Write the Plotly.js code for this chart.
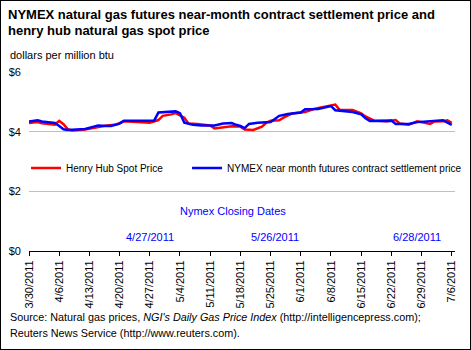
<!DOCTYPE html>
<html>
<head>
<meta charset="utf-8">
<script src="https://cdn.plot.ly/plotly-3.0.1.min.js"></script>
<style>
  html, body { margin: 0; padding: 0; background: #fff; }
  #wrap { position: relative; width: 471px; height: 350px; }
  #chart { position: absolute; left: 0; top: 0; width: 471px; height: 350px; }
  #frame { position: absolute; left: 0; top: 0; width: 471px; height: 350px; box-sizing: border-box; border: 1px solid #000; pointer-events: none; }
</style>
</head>
<body>
<div id="wrap"><div id="chart"></div><div id="frame"></div></div>
<script>
// Henry Hub spot price (dollars per million btu)
const hubDates = ['2011-03-30','2011-04-01','2011-04-02','2011-04-04','2011-04-05','2011-04-06','2011-04-07','2011-04-08','2011-04-09','2011-04-12','2011-04-15','2011-04-17','2011-04-19','2011-04-21','2011-04-24','2011-04-27','2011-04-29','2011-04-30','2011-05-02','2011-05-03','2011-05-05','2011-05-06','2011-05-08','2011-05-11','2011-05-12','2011-05-15','2011-05-16','2011-05-18','2011-05-19','2011-05-21','2011-05-23','2011-05-24','2011-05-25','2011-05-27','2011-05-28','2011-05-30','2011-06-02','2011-06-04','2011-06-07','2011-06-08','2011-06-09','2011-06-10','2011-06-13','2011-06-15','2011-06-16','2011-06-18','2011-06-21','2011-06-23','2011-06-24','2011-06-26','2011-06-28','2011-06-30','2011-07-01','2011-07-02','2011-07-04','2011-07-05','2011-07-06'];
const hubPrices = [4.29,4.32,4.28,4.25,4.23,4.36,4.25,4.08,4.04,4.07,4.16,4.21,4.23,4.35,4.32,4.30,4.39,4.53,4.58,4.62,4.47,4.27,4.26,4.21,4.11,4.16,4.18,4.17,4.07,4.06,4.17,4.30,4.37,4.38,4.47,4.61,4.66,4.76,4.84,4.86,4.91,4.73,4.73,4.61,4.51,4.37,4.35,4.39,4.27,4.23,4.35,4.29,4.26,4.34,4.35,4.38,4.30];

// NYMEX near month futures contract settlement price
const nymexDates = ['2011-03-30','2011-04-01','2011-04-02','2011-04-04','2011-04-05','2011-04-06','2011-04-07','2011-04-08','2011-04-10','2011-04-12','2011-04-14','2011-04-15','2011-04-17','2011-04-18','2011-04-20','2011-04-21','2011-04-28','2011-04-29','2011-05-03','2011-05-04','2011-05-05','2011-05-07','2011-05-09','2011-05-12','2011-05-14','2011-05-16','2011-05-17','2011-05-18','2011-05-19','2011-05-20','2011-05-22','2011-05-25','2011-05-27','2011-05-29','2011-06-01','2011-06-02','2011-06-05','2011-06-07','2011-06-08','2011-06-09','2011-06-13','2011-06-15','2011-06-16','2011-06-17','2011-06-22','2011-06-23','2011-06-26','2011-06-28','2011-07-01','2011-07-04','2011-07-06'];
const nymexPrices = [4.34,4.38,4.34,4.31,4.29,4.19,4.08,4.06,4.07,4.09,4.17,4.21,4.19,4.19,4.27,4.37,4.37,4.64,4.68,4.62,4.30,4.23,4.21,4.21,4.27,4.29,4.23,4.19,4.12,4.26,4.30,4.32,4.53,4.59,4.64,4.75,4.76,4.82,4.86,4.72,4.66,4.58,4.45,4.36,4.37,4.26,4.26,4.32,4.35,4.38,4.23];

// Nymex closing dates (labels)
const closingDates = ['2011-04-27','2011-05-26','2011-06-28'];
const closingLabels = ['4/27/2011','5/26/2011','6/28/2011'];

const yTickVals = [0, 2, 4, 6];
const yTickText = ['$0', '$2', '$4', '$6'];

const FONT = 'Arial, "Liberation Sans", sans-serif';

const traces = [
  { x: hubDates, y: hubPrices, type: 'scatter', mode: 'lines', name: 'Henry Hub Spot Price',
    line: { color: '#ff0000', width: 2.5 }, legend: 'legend' },
  { x: nymexDates, y: nymexPrices, type: 'scatter', mode: 'lines', name: 'NYMEX near month futures contract settlement price',
    line: { color: '#0000ff', width: 2.5 }, legend: 'legend2' }
];

const annotations = [
  { xref: 'paper', yref: 'paper', x: -0.05, y: 1.095, xanchor: 'left', yanchor: 'middle',
    text: 'dollars per million btu', showarrow: false, font: { family: FONT, size: 11, color: '#000' } },
  { xref: 'paper', yref: 'y', x: 0.479, y: 1.34, xanchor: 'center', yanchor: 'middle',
    text: 'Nymex Closing Dates', showarrow: false, font: { family: FONT, size: 11, color: '#0000ff' } },
  { xref: 'paper', yref: 'paper', x: -0.05, y: -0.367, xanchor: 'left', yanchor: 'middle',
    text: "Source: Natural gas prices, <i>NGI's Daily Gas Price Index</i> (http://intelligencepress.com);", showarrow: false, font: { family: FONT, size: 10.8, color: '#000' } },
  { xref: 'paper', yref: 'paper', x: -0.05, y: -0.457, xanchor: 'left', yanchor: 'middle',
    text: 'Reuters News Service (http://www.reuters.com).', showarrow: false, font: { family: FONT, size: 10.8, color: '#000' } }
];
closingDates.forEach((d, i) => {
  annotations.push({ xref: 'x', yref: 'y', x: d, y: 0.47, xanchor: 'center', yanchor: 'middle',
    text: closingLabels[i], showarrow: false, font: { family: FONT, size: 11, color: '#0000ff' } });
});

const legendBase = { orientation: 'h', xanchor: 'left', y: 0.464, yanchor: 'middle',
  bgcolor: 'rgba(0,0,0,0)', font: { family: FONT, size: 10, color: '#000' } };

const layout = {
  width: 471, height: 350,
  margin: { l: 29, r: 16, t: 72, b: 99, autoexpand: false },
  paper_bgcolor: '#fff', plot_bgcolor: '#fff',
  font: { family: FONT, size: 11, color: '#000' },
  title: { text: '<b>NYMEX natural gas futures near-month contract settlement price and<br>henry hub natural gas spot price</b>',
    x: 0, xref: 'container', xanchor: 'left', y: 0.947, yref: 'container', yanchor: 'top',
    pad: { l: 8 }, font: { family: FONT, size: 13, color: '#000' } },
  showlegend: true,
  legend: Object.assign({}, legendBase, { x: -0.007 }),
  legend2: Object.assign({}, legendBase, { x: 0.371 }),
  xaxis: {
    type: 'date', range: ['2011-03-30', '2011-07-06 18:00'],
    tick0: '2011-03-30', dtick: 7 * 24 * 3600 * 1000, tickformat: '%-m/%-d/%Y',
    tickangle: -90, ticks: 'outside', ticklen: 4, tickcolor: '#000', tickwidth: 1,
    showline: true, linecolor: '#000', linewidth: 1, showgrid: false, zeroline: false,
    tickfont: { family: FONT, size: 11, color: '#000' }, fixedrange: true
  },
  yaxis: {
    range: [0, 6], tickvals: yTickVals, ticktext: yTickText, showgrid: true,
    gridcolor: '#c0c0c0', gridwidth: 1, zeroline: false, showline: false, ticks: '',
    ticklabelstandoff: 7, tickfont: { family: FONT, size: 11, color: '#000' }, fixedrange: true
  },
  annotations: annotations
};

Plotly.newPlot('chart', traces, layout, { displayModeBar: false, staticPlot: true });
</script>
</body>
</html>
